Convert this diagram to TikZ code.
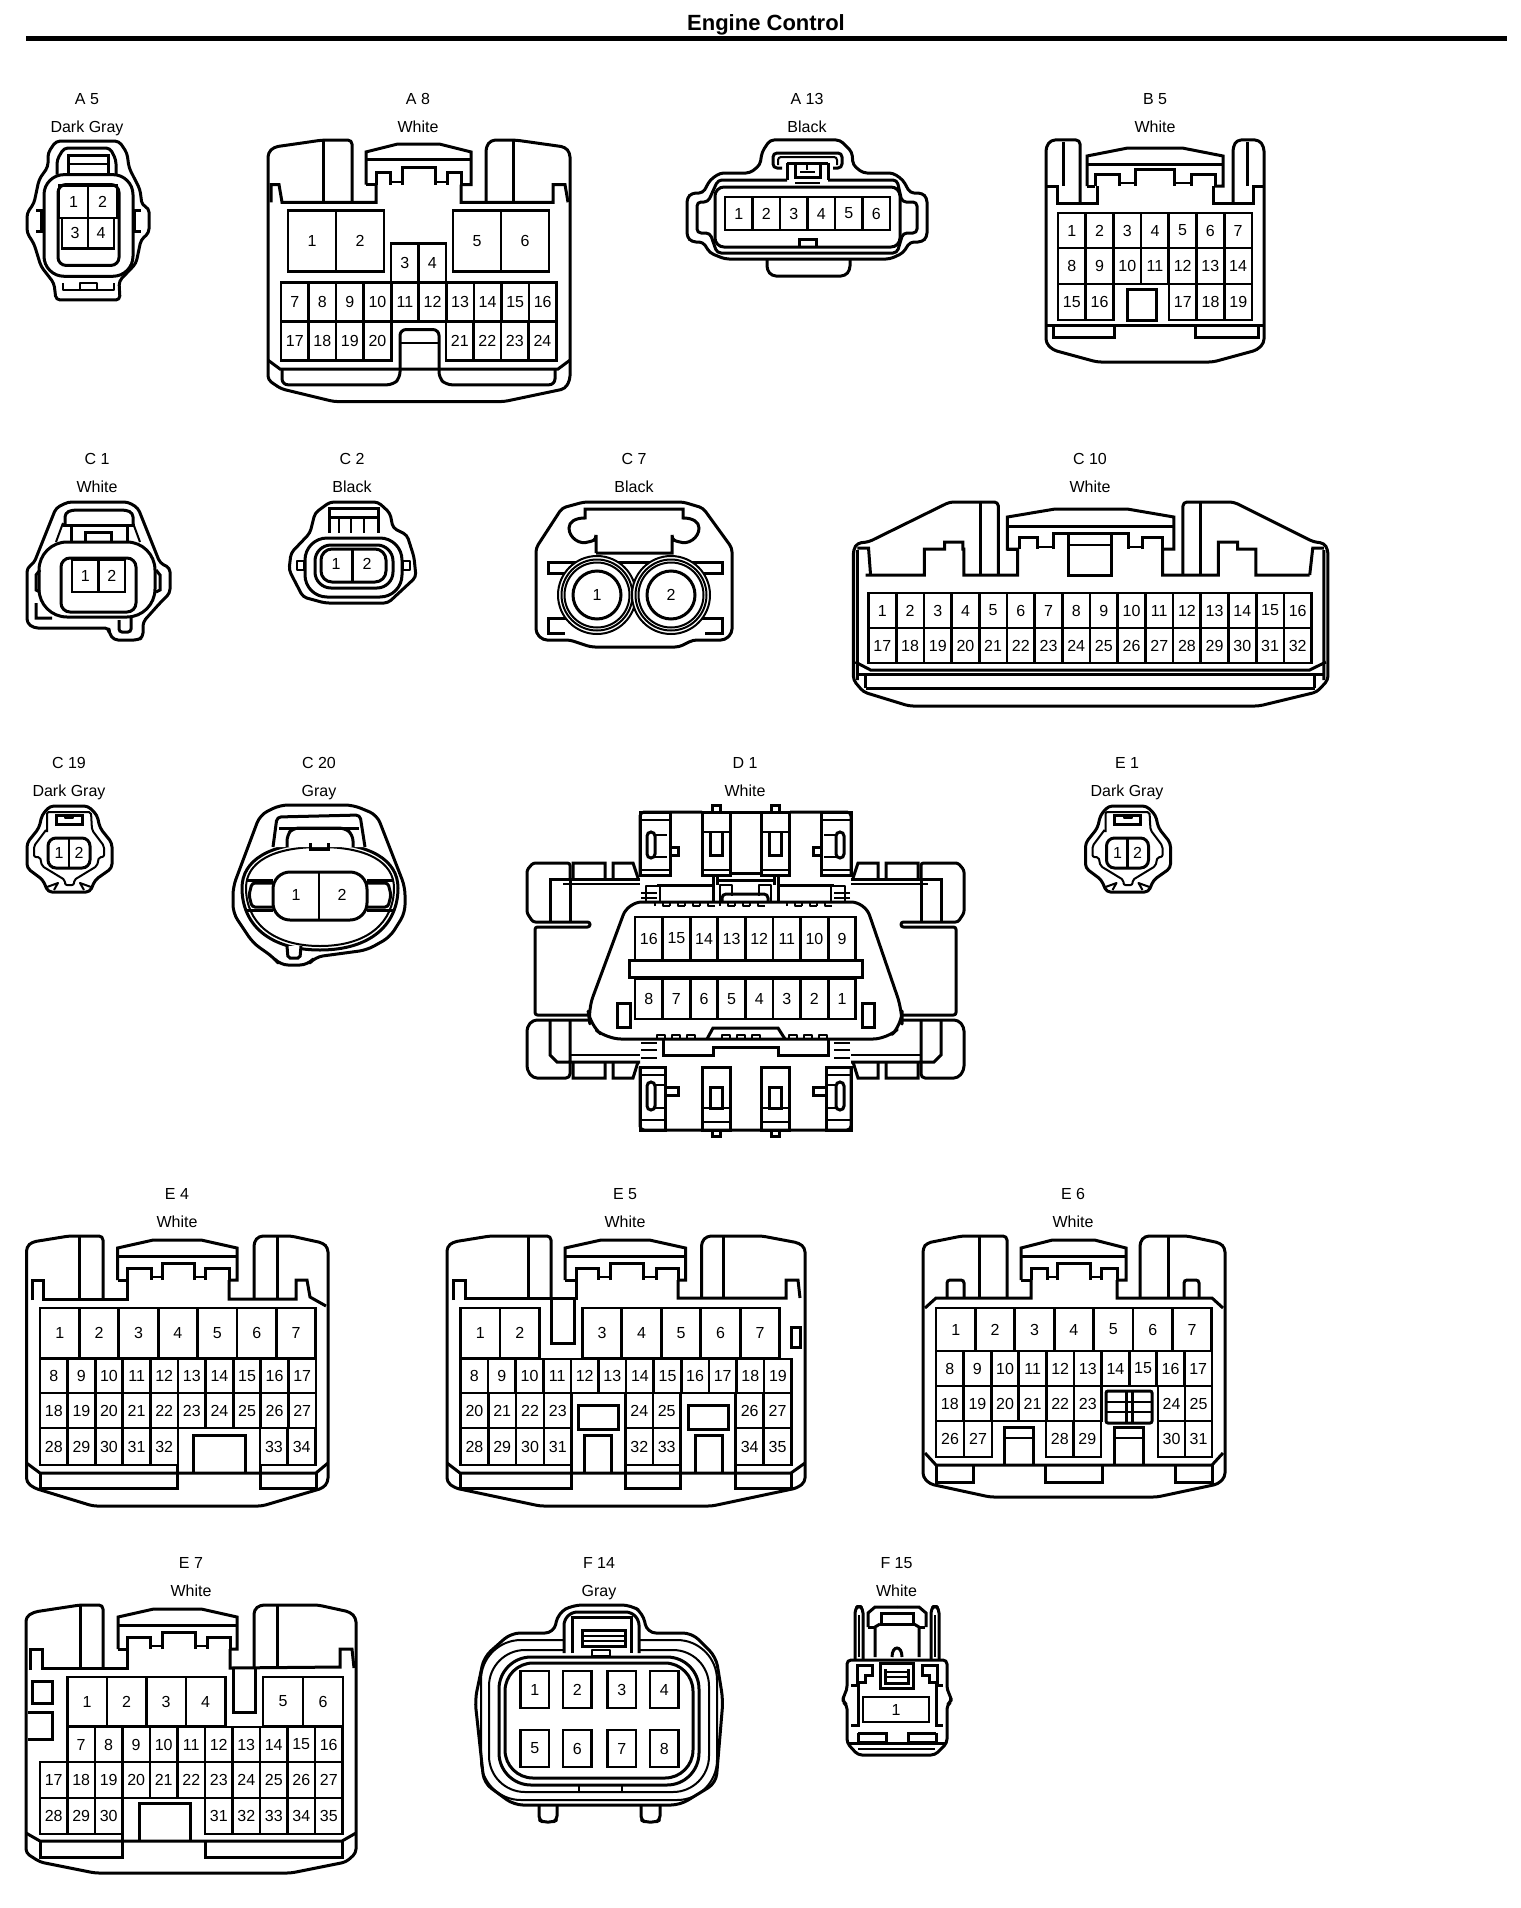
\documentclass[tikz,border=0pt]{standalone}
\usepackage{fontspec}
\setmainfont{Liberation Sans}
\tikzset{
  shell/.style={line width=3pt,line join=round,rounded corners=4pt},
  wall/.style={line width=3pt,line join=miter},
  fine/.style={line width=2pt,line join=round},
  pinbox/.style={line width=2.7pt},
  pinlabel/.style={inner sep=0pt,font=\fontsize{16}{18}\selectfont},
  titletext/.style={inner sep=0pt,text height=11.5pt,text depth=0pt,font=\fontsize{16}{18}\selectfont}
}
% name, x, y, code, colour
\newcommand{\conntitle}[5]{%
  \node[titletext] (#1code) at (#2,#3) {#4};
  \node[titletext] (#1colour) at (#2,#3+28) {#5};
}
% name, left x, top y, bottom y, cell width, pins
\newcommand{\pinrow}[6]{%
  \foreach \p [count=\i from 0] in {#6}{
    \pgfmathsetmacro{\xa}{#2+#5*\i}
    \draw[pinbox] (\xa,#3) rectangle ({\xa+#5},#4);
    \node[pinlabel] (#1p\p) at ({\xa+#5/2},{(#3+#4)/2}) {\p};
  }
}
% left, right, crown y, base y, inner left, inner right, half centre box, small box
\newcommand{\latchtop}[8]{%
  \pgfmathsetmacro{\xm}{(#5+#6)/2}
  \pgfmathsetmacro{\cr}{(#2-#1)*0.3}
  \draw[wall] (#1,#4) -- (#1,#3+8) -- (#1+\cr,#3) -- (#2-\cr,#3) -- (#2,#3+8) -- (#2,#4) -- (#6,#4);
  \draw[wall] (#1,#4) -- (#5,#4);
  \draw[wall] (#1,#3+16) -- (#2,#3+16);
  \draw[wall] (#5,#4) -- (#5,#4-12) -- (#5+#8,#4-12) -- (#5+#8,#4);
  \draw[wall] (#6,#4) -- (#6,#4-12) -- (#6-#8,#4-12) -- (#6-#8,#4);
  \draw[wall] (\xm-#7,#4) -- (\xm-#7,#4-17) -- (\xm+#7,#4-17) -- (\xm+#7,#4);
  \draw[fine] (#5+#8,#4-3) -- (\xm-#7,#4-3) (\xm+#7,#4-3) -- (#6-#8,#4-3);
}
\newcommand{\teeth}[4]{%
  \foreach \t in {1,...,#2}{
    \draw[fine] ({#1+15*(\t-1)},#3) -- ({#1+15*(\t-1)},#4) -- ({#1+15*(\t-1)+8},#4) -- ({#1+15*(\t-1)+8},#3) -- ({#1+15*\t},#3);
  }
}
% small two pin housing of C 19 and E 1
\newcommand{\smallconn}[2]{%
  \begin{scope}[xshift=#2pt]
    \draw[shell] (50,806) -- (88,806) -- (97,815) -- (100,828) -- (112,843) -- (112,868) -- (95,880) -- (90,892) -- (48,892) -- (43,880) -- (27,868) -- (27,843) -- (39,828) -- (42,815) -- cycle;
    \draw[fine,rounded corners=2pt] (47,832) -- (47,812) -- (91,812) -- (92,830) -- (104,846) -- (104,857) -- (99,857) -- (97,866) -- (74,880) -- (74,885) -- (65,885) -- (65,880) -- (42,866) -- (40,857) -- (34,857) -- (34,846) -- (46,830);
    \draw[fine] (47,887) -- (58,883) -- (54,890) (91,887) -- (80,883) -- (84,890);
    \draw[wall] (56,815) rectangle (82,824);
    \draw[fine] (65,815) -- (65,818) -- (73,818) -- (73,815);
    \draw[wall,rounded corners=8pt] (48,838) rectangle (90,868);
    \draw[pinbox] (69,838) -- (69,868);
    \node[pinlabel] (#1p1) at (59,853) {1};
    \node[pinlabel] (#1p2) at (79,853) {2};
  \end{scope}
}
\begin{document}
\begin{tikzpicture}[x=1pt,y=-1pt,line cap=butt]
  \useasboundingbox (0,0) rectangle (1520,1908);
  \node[inner sep=0pt,font=\fontsize{22}{24}\selectfont\bfseries] (heading) at (766,25) {Engine Control};
  \draw[line width=5pt] (26,39) -- (1507,39);

  % A 5
  \conntitle{afive}{87}{99}{A 5}{Dark Gray}
  \begin{scope}[yscale=0.9867]
  \draw[shell] (48,155) -- (56,143) -- (119,143) -- (127,155) -- (129,170) -- (140,192) -- (142,208) -- (149,211) -- (149,236) -- (141,243) -- (136,267) -- (119,285) -- (120,304) -- (56,304) -- (54,287) -- (41,270) -- (34,247) -- (27,236) -- (27,216) -- (34,206) -- (39,182) -- (48,169) -- cycle;
  \draw[wall,rounded corners=20pt] (44,177) rectangle (133,280);
  \draw[wall,rounded corners=8pt] (58,187) rectangle (119,269);
  \draw[shell] (57,177) -- (57,162) -- (64,150) -- (110,150) -- (116,162) -- (116,177);
  \draw[wall] (68,177) -- (68,158) -- (108,158) -- (108,177);
  \draw[fine] (68,166) -- (108,166);
  \draw[wall] (36,213) -- (41,213) -- (41,235) -- (36,235);
  \draw[wall] (141,213) -- (134,213) -- (134,235) -- (141,235);
  \draw[fine] (63,287) -- (63,294) -- (114,294) -- (114,287) (80,287) rectangle (97,294);
  \pinrow{afive}{59}{188}{221}{29}{1,2}
  \pinrow{afive}{62}{221}{252}{26}{3,4}
  \end{scope}

  % A 8
  \conntitle{aeight}{418}{99}{A 8}{White}
  \begin{scope}[yscale=0.9867]
  \draw[shell] (352,205) -- (352,142) -- (322,142) -- (274,149) -- (268,155) -- (268,385) -- (281,394) -- (334,407) -- (504,407) -- (565,394) -- (570,385) -- (570,155) -- (565,149) -- (516,142) -- (491,142) -- (486,149) -- (486,205);
  \draw[wall] (323,142) -- (323,205) (513,142) -- (513,205);
  \draw[wall] (271,205) -- (271,187) -- (279,187) -- (282,205) -- (376,205) -- (376,187);
  \draw[wall] (461,187) -- (461,205) -- (553,205) -- (553,187) -- (565,187) -- (568,205);
  \latchtop{366}{471}{146}{187}{376}{461}{16.5}{14}
  \pinrow{aeight}{288}{213.5}{275}{48}{1,2}
  \pinrow{aeight}{391}{247}{286.5}{27.5}{3,4}
  \pinrow{aeight}{453}{213.5}{275}{48}{5,6}
  \pinrow{aeight}{281}{286.5}{326}{27.55}{7,...,16}
  \pinrow{aeight}{281}{326}{365.5}{27.55}{17,...,20}
  \pinrow{aeight}{446}{326}{365.5}{27.55}{21,...,24}
  \draw[wall] (268,365) -- (280,374) -- (558,374) -- (570,365);
  \draw[wall,rounded corners=6pt] (282,374) -- (282,390) -- (393,390) -- (400,383) -- (400,334) -- (439,334) -- (439,383) -- (446,390) -- (555,390) -- (555,374);
  \draw[fine] (400,348) -- (439,348);
  \end{scope}

  % A 13
  \conntitle{athirteen}{807}{99}{A 13}{Black}
  \draw[shell] (770,140) -- (840,140) -- (852,152) -- (853,165) -- (863,173) -- (893,173) -- (903,180) -- (910,193) -- (922,193) -- (927,198) -- (927,237) -- (922,242) -- (910,242) -- (903,253) -- (890,259) -- (725,259) -- (710,253) -- (703,242) -- (692,242) -- (687,237) -- (687,198) -- (692,193) -- (703,193) -- (710,180) -- (720,173) -- (750,173) -- (760,165) -- (762,152) -- cycle;
  \draw[shell] (787,180) -- (718,180) -- (708,202) -- (697,202) -- (697,233) -- (710,233) -- (717,253) -- (897,253) -- (903,233) -- (917,233) -- (917,202) -- (902,202) -- (897,180) -- (828,180);
  \draw[wall,rounded corners=9pt] (715,187) rectangle (900,247);
  \draw[shell] (767,259) -- (767,270) -- (772,276) -- (845,276) -- (850,270) -- (850,259);
  \draw[shell] (782,168) -- (773,168) -- (773,153) -- (842,153) -- (842,168) -- (833,168);
  \draw[fine,rounded corners=3pt] (778,165) -- (778,157) -- (837,157) -- (837,165);
  \draw[wall] (787,163) -- (787,180) (828,163) -- (828,180) (787,163) -- (828,163);
  \draw[wall] (795,163) -- (795,177) -- (820,177) -- (820,163);
  \draw[fine] (800,172) -- (815,172) (807,163) -- (807,170) (795,183) -- (820,183);
  \draw[wall] (799,247) -- (799,239) -- (816,239) -- (816,247);
  \pinrow{athirteen}{725}{197}{230}{27.5}{1,...,6}

  % B 5
  \conntitle{bfive}{1155}{99}{B 5}{White}
  \draw[shell] (1080,203) -- (1080,140) -- (1051,140) -- (1046,147) -- (1046,343) -- (1053,350) -- (1097,362) -- (1213,362) -- (1257,350) -- (1264,343) -- (1264,147) -- (1259,140) -- (1237,140) -- (1233,147) -- (1233,203);
  \draw[wall] (1063,142) -- (1063,186) (1247,142) -- (1247,186) (1046,186) -- (1057,186) -- (1057,203) -- (1097,203) -- (1097,186) (1213,186) -- (1213,203) -- (1253,203) -- (1253,186) -- (1264,186);
  \latchtop{1087}{1223}{148}{186}{1095}{1215}{19.5}{24}
  \pinrow{bfive}{1058}{213}{248}{27.7}{1,...,7}
  \pinrow{bfive}{1058}{248}{284}{27.7}{8,...,14}
  \pinrow{bfive}{1058}{284}{320}{27.7}{15,16}
  \pinrow{bfive}{1169}{284}{320}{27.7}{17,18,19}
  \draw[wall] (1127,289) rectangle (1156,320);
  \draw[wall] (1046,325) -- (1264,325);
  \draw[wall] (1053,325) -- (1053,337) -- (1114,337) -- (1114,325) (1195,325) -- (1195,337) -- (1258,337) -- (1258,325);

  % C 1
  \conntitle{cone}{97}{459}{C 1}{White}
  \draw[shell] (68,502) -- (128,502) -- (138,508) -- (160,563) -- (170,568) -- (170,593) -- (160,603) -- (143,622) -- (143,637) -- (138,640) -- (114,640) -- (109,633) -- (109,628) -- (34,628) -- (27,623) -- (27,568) -- (34,563) -- (56,508) -- cycle;
  \draw[wall,rounded corners=28pt] (39,542) rectangle (155,617);
  \draw[wall,rounded corners=9pt] (61,558) rectangle (136,612);
  \draw[shell] (65,525) -- (65,513) -- (72,510) -- (126,510) -- (133,513) -- (133,525);
  \draw[wall] (63,525) -- (135,525) (71,525) -- (71,542) (127,525) -- (127,542);
  \draw[wall] (85,542) -- (85,532) -- (111,532) -- (111,542);
  \draw[fine] (56,542) -- (63,523) (140,542) -- (133,523);
  \draw[wall] (36,603) -- (36,618) -- (52,618) (40,570) -- (36,575) -- (36,590) -- (40,592);
  \draw[wall] (156,570) -- (160,575) -- (160,590) -- (156,592);
  \draw[wall,rounded corners=3pt] (119,620) -- (119,632) -- (131,632) -- (131,618);
  \pinrow{cone}{72}{560}{592}{26.5}{1,2}

  % C 2
  \conntitle{ctwo}{352}{459}{C 2}{Black}
  \draw[shell] (330,502) -- (378,502) -- (390,513) -- (393,528) -- (407,535) -- (414,557) -- (416,577) -- (402,590) -- (388,603) -- (325,603) -- (303,597) -- (289,570) -- (291,553) -- (310,533) -- (315,513) -- cycle;
  \draw[wall,rounded corners=22pt] (305,538) rectangle (402,597);
  \draw[wall,rounded corners=16pt] (315,545) rectangle (393,588);
  \draw[wall,rounded corners=11pt] (321,549) rectangle (386,582);
  \draw[wall] (329,533) -- (329,508) -- (378,508) -- (378,533) (329,517) -- (378,517);
  \draw[fine] (339,517) -- (339,533) (351,517) -- (351,533) (364,517) -- (364,533);
  \draw[fine] (297,561) rectangle (304,570) (403,561) rectangle (410,570);
  \draw[pinbox] (352.5,549) -- (352.5,582);
  \node[pinlabel] (ctwop1) at (336,564) {1};
  \node[pinlabel] (ctwop2) at (367,564) {2};

  % C 7
  \conntitle{cseven}{634}{459}{C 7}{Black}
  \draw[shell] (584,502) -- (683,502) -- (703,508) -- (732,548) -- (732,633) -- (725,640) -- (693,640) -- (679,647) -- (591,647) -- (570,640) -- (543,640) -- (536,633) -- (536,548) -- (562,508) -- cycle;
  \draw[wall] (596,553) -- (596,535) .. controls (596,541) and (592,541) .. (588,542) .. controls (580,545) and (569,538) .. (569,528) .. controls (569,522) and (575,518) .. (585,518) -- (585,509) -- (683,509) -- (683,518) .. controls (693,518) and (699,522) .. (699,528) .. controls (699,538) and (688,545) .. (680,542) .. controls (676,541) and (672,541) .. (672,535) -- (672,553) -- (596,553);
  \draw[wall] (570,573) -- (548,573) -- (548,562) -- (722,562) -- (722,573) -- (698,573);
  \draw[wall] (570,618) -- (548,618) -- (548,633) -- (565,633);
  \draw[wall] (698,618) -- (722,618) -- (722,633) -- (705,633);
  \foreach \cx/\cn in {597/1,671/2}{
    \fill[white] (\cx,595) circle[radius=39pt];
    \draw[fine] (\cx,595) circle[radius=39pt];
    \draw[fine] (\cx,595) circle[radius=35.5pt];
    \draw[fine] (\cx,595) circle[radius=32.5pt];
    \draw[wall] (\cx,595) circle[radius=24pt];
    \node[pinlabel] (csevenp\cn) at (\cx,595) {\cn};
  }

  % C 10
  \conntitle{cten}{1090}{459}{C 10}{White}
  \begin{scope}[xshift=-11.8pt,xscale=1.0142]
  \draw[shell] (996,575) -- (996,502) -- (948,502) -- (868,542) -- (857,543) -- (853,550) -- (853,680) -- (863,692) -- (908,706) -- (1253,706) -- (1310,692) -- (1321,680) -- (1321,550) -- (1317,543) -- (1307,542) -- (1228,502) -- (1178,502) -- (1178,575);
  \draw[wall] (978,503) -- (978,575) (1195,503) -- (1195,575);
  \draw[wall] (857,550) -- (857,680) (1317,550) -- (1317,680) (857,548) -- (868,548) -- (870,575) (1317,548) -- (1306,548) -- (1303,575);
  \draw[wall] (865,575) -- (923,575) -- (923,549) -- (943,549) -- (943,542) -- (961,542) -- (961,549) -- (962,549) -- (962,575) -- (1015,575) -- (1015,549) -- (1005,549) -- (1005,517) -- (1052,509) -- (1123,509) -- (1169,517) -- (1169,549) -- (1158,549) -- (1158,575) -- (1213,575) -- (1213,549) -- (1213,542) -- (1232,542) -- (1232,549) -- (1250,549) -- (1250,575) -- (1303,575);
  \draw[wall] (1005,526) -- (1169,526) (1005,549) -- (1015,549) (1017,549) -- (1017,537) -- (1035,537) -- (1035,549) (1138,549) -- (1138,537) -- (1158,537) -- (1158,549);
  \draw[wall] (1050,549) -- (1050,533) -- (1124,533) -- (1124,549) (1065,533) -- (1065,575) -- (1108,575) -- (1108,533);
  \draw[fine] (1065,545) -- (1108,545) (1035,547) -- (1050,547) (1124,547) -- (1138,547);
  \pinrow{cten}{868}{593}{628}{27.3}{1,...,16}
  \pinrow{cten}{868}{628}{663}{27.3}{17,...,32}
  \draw[wall] (855,662) -- (870,670) -- (1303,670) -- (1319,662);
  \draw[wall] (857,674) -- (1317,674) (865,674) -- (865,688) (1308,674) -- (1308,688) (865,688) -- (1308,688);
  \end{scope}

  % C 19
  \conntitle{cnineteen}{69}{763}{C 19}{Dark Gray}
  \smallconn{cnineteen}{0}

  % C 20
  \conntitle{ctwenty}{319}{763}{C 20}{Gray}
  \draw[shell,rounded corners=8pt] (280,805) -- (353,805) -- (377,815) -- (405,887) -- (405,913) -- (390,937) -- (367,950) -- (315,957) -- (308,965) -- (280,965) -- (273,957) -- (253,943) -- (233,913) -- (233,887) -- (260,815) -- cycle;
  \draw[wall] (320,843) .. controls (370,843) and (398,860) .. (398,888) .. controls (398,925) and (370,950) .. (320,950) .. controls (270,950) and (242,925) .. (242,888) .. controls (242,860) and (270,843) .. (320,843);
  \draw[fine] (320,847) .. controls (367,847) and (394,862) .. (394,888) .. controls (394,922) and (368,946) .. (320,946) .. controls (272,946) and (246,922) .. (246,888) .. controls (246,862) and (273,847) .. (320,847);
  \draw[shell,fill=white] (273,847) -- (277,817) -- (360,815) -- (365,847);
  \draw[shell,rounded corners=6pt] (287,847) -- (287,835) -- (293,828) -- (345,828) -- (353,835) -- (353,847);
  \draw[wall] (279,828) -- (359,828);
  \draw[wall] (310,843) -- (310,849) -- (328,849) -- (328,843);
  \draw[wall] (246,880) -- (273,880) (246,910) -- (273,910) (367,880) -- (394,880) (367,910) -- (394,910);
  \draw[wall,rounded corners=3pt] (273,883) -- (252,883) -- (249,895) -- (252,907) -- (273,907);
  \draw[wall,rounded corners=3pt] (367,883) -- (388,883) -- (391,895) -- (388,907) -- (367,907);
  \draw[wall,rounded corners=17pt] (273,872) rectangle (367,920);
  \draw[pinbox] (319,872) -- (319,920);
  \node[pinlabel] (ctwentyp1) at (296,895) {1};
  \node[pinlabel] (ctwentyp2) at (342,895) {2};
  \draw[wall,fill=white,rounded corners=2pt] (287,946) -- (288,958) -- (300,958) -- (301,946);

  % D 1
  \conntitle{done}{745}{763}{D 1}{White}
  \foreach \ox/\sx in {0/1,1491/-1}{
    \begin{scope}[xshift=\ox pt,xscale=\sx]
      \draw[shell,rounded corners=2.4pt] (570,879) -- (570,863) -- (533,863) -- (527,870) -- (527,913) -- (533,922) -- (590,922) -- (590,927) -- (535,927) -- (535,1015) -- (590,1015);
      \draw[wall] (573,878) -- (573,863) -- (605,863) -- (605,878) (613,878) -- (613,863) -- (633,863) -- (638,878);
      \draw[wall] (550,922) -- (550,879) -- (640,879) (570,879) -- (570,922);
      \draw[fine] (563,884) -- (640,884);
      \draw[shell] (590,1020) -- (533,1020) -- (527,1027) -- (527,1070) -- (533,1078) -- (570,1078) -- (570,1062);
      \draw[wall] (573,1062) -- (573,1078) -- (605,1078) -- (605,1062) (613,1062) -- (613,1078) -- (633,1078) -- (638,1062);
      \draw[wall] (550,1020) -- (550,1055) -- (557,1062) -- (640,1062) (570,1020) -- (570,1062);
      \draw[fine] (570,1055) -- (640,1055);
      % top block
      \draw[wall] (640,875) rectangle (670,812);
      \draw[fine] (640,820) -- (670,820) (640,870) -- (670,870) (655,835) -- (667,835) (655,857) -- (667,857);
      \draw[wall,rounded corners=4pt] (647,832) rectangle (655,858);
      \draw[wall] (670,847) -- (678,847) -- (678,855) -- (670,855);
      \draw[wall] (702,875) rectangle (730,812);
      \draw[fine] (702,832) -- (730,832) (702,870) -- (730,870);
      \draw[wall] (710,832) -- (710,855) -- (722,855) -- (722,832);
      \draw[wall] (712,812) -- (712,805) -- (720,805) -- (720,812);
      \draw[fine] (646,886) rectangle (660,902);
      \draw[fine] (641,893) -- (657,893) (641,898) -- (657,898);
      \draw[fine] (720,902) -- (720,885) -- (732,885) -- (732,896);
      % bottom block
      \draw[wall] (640,1067) rectangle (665,1130);
      \draw[fine] (640,1075) -- (665,1075) (640,1120) -- (665,1120) (655,1085) -- (665,1085) (655,1108) -- (665,1108);
      \draw[wall,rounded corners=4pt] (647,1082) rectangle (655,1110);
      \draw[wall] (665,1087) -- (678,1087) -- (678,1095) -- (665,1095);
      \draw[wall] (702,1067) rectangle (730,1130);
      \draw[fine] (702,1108) -- (730,1108) (702,1122) -- (730,1122);
      \draw[wall] (710,1087) rectangle (722,1108);
      \draw[wall] (712,1130) -- (712,1136) -- (720,1136) -- (720,1130);
      \draw[fine] (641,1043) -- (657,1043) (641,1050) -- (657,1050) (641,1058) -- (657,1058);
      \draw[wall] (663,1040) -- (663,1055) -- (713,1055) -- (713,1047) -- (745.5,1047);
      \draw[wall] (657,885) -- (713,885) (713,876) -- (713,902) (717,876) -- (717,885);
    \end{scope}
  }
  \draw[shell] (702,812) -- (640,812) -- (640,875) (790,812) -- (851,812) -- (851,875);
  \draw[wall] (730,812) -- (762,812) (730,873) -- (762,873) (717,880) -- (775,880);
  \draw[shell] (640,1067) -- (640,1130) -- (851,1130) -- (851,1067);
  \draw[shell,rounded corners=4pt] (722,902) -- (722,894) -- (768,894) -- (768,902);
  \draw[shell,fill=white,rounded corners=14pt] (628,902) -- (588,1010) -- (590,1025) -- (607,1039) -- (887,1039) -- (902,1025) -- (902,1010) -- (865,902) -- cycle;
  \draw[wall] (707,1039) -- (713,1028) -- (778,1028) -- (785,1039);
  \teeth{655}{4}{906}{902}
  \teeth{720}{3}{906}{902}
  \teeth{787}{3}{906}{902}
  \teeth{657}{3}{1039}{1035}
  \teeth{722}{3}{1039}{1035}
  \teeth{789}{3}{1039}{1035}
  \pinrow{done}{635}{917}{960}{27.6}{16,15,14,13,12,11,10,9}
  \draw[wall] (629,960) rectangle (862,977);
  \pinrow{done}{635}{979}{1019}{27.6}{8,7,6,5,4,3,2,1}
  \draw[wall] (617,1003) rectangle (630,1027);
  \draw[wall] (862,1003) rectangle (874,1027);

  % E 1
  \conntitle{eone}{1127}{763}{E 1}{Dark Gray}
  \smallconn{eone}{1058.5}

  % E 4
  \conntitle{efour}{177}{1194}{E 4}{White}
  \draw[shell] (103,1298) -- (103,1236) -- (69,1236) -- (32,1242) -- (26.5,1247) -- (26.5,1482) -- (34,1488) -- (93,1506) -- (262,1506) -- (323,1488) -- (328,1482) -- (328,1248) -- (323,1243) -- (291,1236) -- (259,1236) -- (254,1242) -- (254,1298);
  \draw[wall] (79,1236) -- (79,1298) (277,1236) -- (277,1298);
  \draw[wall] (32,1300) -- (32,1280) -- (43,1280) -- (43,1299) -- (127,1299) -- (127,1280);
  \draw[wall] (229,1280) -- (229,1299) -- (296,1299) -- (296,1280) -- (307,1280) -- (310,1297) -- (326,1306);
  \latchtop{117.5}{237}{1240}{1280}{127}{229}{16}{24}
  \pinrow{efour}{40}{1308}{1358}{39.4}{1,...,7}
  \pinrow{efour}{40}{1359}{1393}{27.6}{8,...,17}
  \pinrow{efour}{40}{1393}{1428}{27.6}{18,...,27}
  \pinrow{efour}{40}{1428}{1465}{27.6}{28,...,32}
  \pinrow{efour}{260}{1428}{1465}{27.8}{33,34}
  \draw[wall] (193,1473) -- (193,1435) -- (245,1435) -- (245,1473);
  \draw[wall] (26.5,1463) -- (40,1473) -- (316,1473) -- (328,1463);
  \draw[wall] (40,1473) -- (40,1488) -- (177,1488) -- (177,1465) (260,1465) -- (260,1488) -- (316,1488) -- (316,1473);

  % E 5
  \conntitle{efive}{625}{1194}{E 5}{White}
  \draw[shell] (551,1298) -- (551,1236) -- (490,1236) -- (453,1242) -- (447,1247) -- (447,1482) -- (455,1488) -- (540,1506) -- (712,1506) -- (797,1488) -- (805,1482) -- (805,1248) -- (799,1243) -- (762,1236) -- (707,1236) -- (701.5,1242) -- (701.5,1298);
  \draw[wall] (528,1236) -- (528,1298) (723,1236) -- (723,1298);
  \draw[wall] (453,1300) -- (453,1280) -- (465,1280) -- (465,1298) -- (576,1298) -- (576,1280);
  \draw[wall] (678,1280) -- (678,1298) -- (786,1298) -- (786,1280) -- (798,1280) -- (800,1298);
  \draw[wall] (551,1298) -- (551,1343) -- (574.5,1343) -- (574.5,1298);
  \latchtop{565}{685.5}{1240}{1280}{576}{678}{16.5}{22}
  \pinrow{efive}{460.5}{1308}{1358}{39.5}{1,2}
  \pinrow{efive}{582.3}{1308}{1358}{39.5}{3,...,7}
  \pinrow{efive}{460.5}{1359}{1393}{27.6}{8,...,19}
  \pinrow{efive}{460.5}{1393}{1428}{27.8}{20,...,23}
  \pinrow{efive}{625.7}{1393}{1428}{27.3}{24,25}
  \pinrow{efive}{735.8}{1393}{1428}{27.8}{26,27}
  \pinrow{efive}{460.5}{1428}{1465}{27.8}{28,...,31}
  \pinrow{efive}{625.7}{1428}{1465}{27.3}{32,33}
  \pinrow{efive}{735.8}{1428}{1465}{27.8}{34,35}
  \draw[wall] (578,1405) rectangle (618,1429) (688,1405) rectangle (728,1429);
  \draw[wall] (584,1473) -- (584,1435) -- (611.4,1435) -- (611.4,1473) (695,1473) -- (695,1435) -- (722.6,1435) -- (722.6,1473);
  \draw[wall] (791.5,1327) rectangle (800,1347);
  \draw[wall] (447,1463) -- (460,1473) -- (791,1473) -- (805,1463);
  \draw[wall] (460.5,1473) -- (460.5,1488) -- (571.7,1488) -- (571.7,1465) (625.7,1465) -- (625.7,1488) -- (680.3,1488) -- (680.3,1465) (735.8,1465) -- (735.8,1488) -- (791.5,1488) -- (791.5,1473);

  % E 6
  \conntitle{esix}{1073}{1194}{E 6}{White}
  \draw[shell] (1007,1298) -- (1007,1236) -- (962,1236) -- (927,1243) -- (923,1248) -- (923,1477) -- (930,1484) -- (990,1497) -- (1157,1497) -- (1218,1484) -- (1225,1477) -- (1225,1248) -- (1220,1243) -- (1187,1236) -- (1145,1236) -- (1140,1242) -- (1140,1298);
  \draw[wall] (979,1236) -- (979,1298) (1168,1236) -- (1168,1298);
  \draw[wall] (925,1308) -- (936,1298) -- (1031,1298) -- (1031,1280) (1117,1280) -- (1117,1298) -- (1212,1298) -- (1223,1308);
  \draw[wall,rounded corners=3pt] (947,1298) -- (947,1280) -- (964,1280) -- (964,1298) (1184,1298) -- (1184,1280) -- (1199,1280) -- (1199,1298);
  \latchtop{1021}{1126}{1240}{1280}{1031}{1117}{16.5}{16}
  \pinrow{esix}{936}{1308}{1351}{39.4}{1,...,7}
  \pinrow{esix}{936}{1351}{1386}{27.6}{8,...,17}
  \pinrow{esix}{936}{1386}{1421}{27.6}{18,...,23}
  \pinrow{esix}{1158}{1386}{1421}{27}{24,25}
  \pinrow{esix}{936}{1421}{1457}{28}{26,27}
  \pinrow{esix}{1046}{1421}{1457}{27.5}{28,29}
  \pinrow{esix}{1158}{1421}{1457}{27}{30,31}
  \draw[wall,rounded corners=2pt] (1106,1391) rectangle (1152,1423);
  \draw[wall] (1126,1391) -- (1126,1423) (1132,1391) -- (1132,1423);
  \draw[fine] (1106,1402) -- (1152,1402) (1106,1412) -- (1152,1412);
  \draw[wall] (1004,1465) -- (1004,1427) -- (1033,1427) -- (1033,1465) (1114,1465) -- (1114,1427) -- (1143,1427) -- (1143,1465);
  \draw[fine] (1004,1438) -- (1033,1438) (1114,1438) -- (1143,1438);
  \draw[wall] (925,1453) -- (936,1465) -- (1212,1465) -- (1223,1453);
  \draw[wall] (936,1465) -- (936,1482) -- (973,1482) -- (973,1465) (1045,1465) -- (1045,1482) -- (1102,1482) -- (1102,1465) (1175,1465) -- (1175,1482) -- (1212,1482) -- (1212,1465);

  % E 7
  \conntitle{eseven}{191}{1563}{E 7}{White}
  \draw[shell] (103,1668) -- (103,1605) -- (80,1605) -- (34,1612) -- (26,1617) -- (26,1853) -- (40,1862) -- (95,1873) -- (291,1873) -- (346,1862) -- (356,1853) -- (356,1618) -- (350,1612) -- (318,1605) -- (260,1605) -- (254,1610) -- (254,1667);
  \draw[wall] (80,1605) -- (80,1668) (277,1605) -- (277,1667);
  \draw[wall] (30,1670) -- (30,1649) -- (42,1649) -- (42,1668) -- (127,1668) -- (127,1649);
  \draw[wall] (230,1649) -- (230,1668) -- (340,1667) -- (340,1649) -- (352,1649) -- (354,1668);
  \draw[wall] (233,1668) -- (233,1712) -- (255,1712) -- (255,1668);
  \latchtop{118}{237}{1609}{1649}{127}{230}{16.5}{23}
  \draw[wall] (32,1681) rectangle (52,1703);
  \draw[wall] (28,1712) -- (52,1712) -- (52,1739) -- (28,1739);
  \pinrow{eseven}{67.4}{1677}{1726}{39.5}{1,...,4}
  \pinrow{eseven}{263}{1677}{1726}{40}{5,6}
  \pinrow{eseven}{67.4}{1727}{1762}{27.5}{7,...,16}
  \pinrow{eseven}{40}{1762}{1798}{27.5}{17,...,27}
  \pinrow{eseven}{40}{1798}{1834}{27.5}{28,29,30}
  \pinrow{eseven}{205}{1798}{1834}{27.5}{31,...,35}
  \draw[wall] (139,1841) -- (139,1803) -- (190,1803) -- (190,1841);
  \draw[wall] (26,1833) -- (40,1841) -- (342,1841) -- (356,1833);
  \draw[wall] (40,1841) -- (40,1857) -- (122.5,1857) -- (122.5,1834) (205,1841) -- (205,1857) -- (342,1857) -- (342,1841);

  % F 14
  \conntitle{ffourteen}{599}{1563}{F 14}{Gray}
  \draw[shell,rounded corners=9pt] (554,1633) -- (558,1613) -- (573,1605) -- (631,1605) -- (643,1613) -- (647,1633) -- (692,1633) -- (716,1657) -- (723,1700) -- (716,1783) -- (680,1805) -- (514,1805) -- (484,1783) -- (475,1700) -- (484,1657) -- (511,1633) -- cycle;
  \draw[fine,rounded corners=40pt] (481,1640) rectangle (717,1800);
  \draw[fine,rounded corners=36pt] (489,1650) rectangle (709,1792);
  \draw[wall,rounded corners=32pt] (499,1657) rectangle (699,1785);
  \draw[wall,rounded corners=28pt] (505,1663) rectangle (693,1778);
  \draw[wall,fill=white,rounded corners=5pt] (564,1653) -- (564,1620) -- (572,1612) -- (631,1612) -- (639,1620) -- (639,1653);
  \draw[wall] (572,1653) -- (572,1617) -- (631,1617) -- (631,1653);
  \draw[wall] (582,1630) rectangle (625,1646);
  \draw[fine] (582,1636) -- (625,1636) (582,1641) -- (625,1641) (592,1650) rectangle (610,1656);
  \foreach \fx/\fa/\fb in {520.5/1/5,563/2/6,607.5/3/7,650/4/8}{
    \pinrow{ffourteen}{\fx}{1671}{1708}{28.5}{\fa}
    \pinrow{ffourteen}{\fx}{1730}{1767}{28.5}{\fb}
  }
  \draw[fine] (579,1785) -- (579,1791) (621.5,1785) -- (621.5,1791);
  \draw[shell] (539,1805) -- (539,1820) -- (543,1822) -- (553,1822) -- (557,1820) -- (557,1805);
  \draw[shell] (641,1805) -- (641,1820) -- (645,1822) -- (656,1822) -- (660,1820) -- (660,1805);

  % F 15
  \conntitle{ffifteen}{896.5}{1563}{F 15}{White}
  \foreach \ox/\sx in {0/1,1794/-1}{
    \begin{scope}[xshift=\ox pt,xscale=\sx]
      \draw[shell] (855,1660) -- (855,1609) -- (859,1605) -- (863,1609) -- (863,1660);
      \draw[fine] (859,1615) -- (859,1657);
      \draw[wall] (875,1657) -- (875,1627) -- (880,1624) (868,1627) -- (868,1613) -- (875,1607) -- (897,1607);
      \draw[wall] (857,1665) -- (872,1665) -- (872,1675) -- (865,1675) -- (865,1682) -- (857,1682) -- cycle;
      \draw[wall] (851,1685) -- (858,1685) -- (858,1725) -- (851,1725);
      \draw[wall] (858,1733) -- (858,1742) -- (886,1742) -- (886,1733) -- (858,1733);
    \end{scope}
  }
  \draw[shell] (868,1627) -- (875,1627) (925,1627) -- (918,1627);
  \draw[wall] (881,1613) rectangle (913,1624);
  \draw[wall] (892,1657) .. controls (892,1645) and (902,1645) .. (902,1657);
  \draw[shell] (847,1660) -- (947,1660) -- (947,1690) -- (951,1697) -- (951,1702) -- (947,1705) -- (947,1743) -- (935,1755) -- (858,1755) -- (847,1743) -- (847,1705) -- (843,1702) -- (843,1697) -- (847,1690) -- cycle;
  \draw[wall] (880,1663) rectangle (913,1688);
  \draw[wall] (885,1669) -- (885,1683) -- (908,1683) -- (908,1669);
  \draw[fine] (885,1672) -- (908,1672) (885,1677) -- (908,1677);
  \draw[wall] (849,1743) -- (945,1743);
  \draw[fine] (858,1749) -- (935,1749);
  \pinrow{ffifteen}{863}{1697}{1722}{66}{1}
\end{tikzpicture}
\end{document}
